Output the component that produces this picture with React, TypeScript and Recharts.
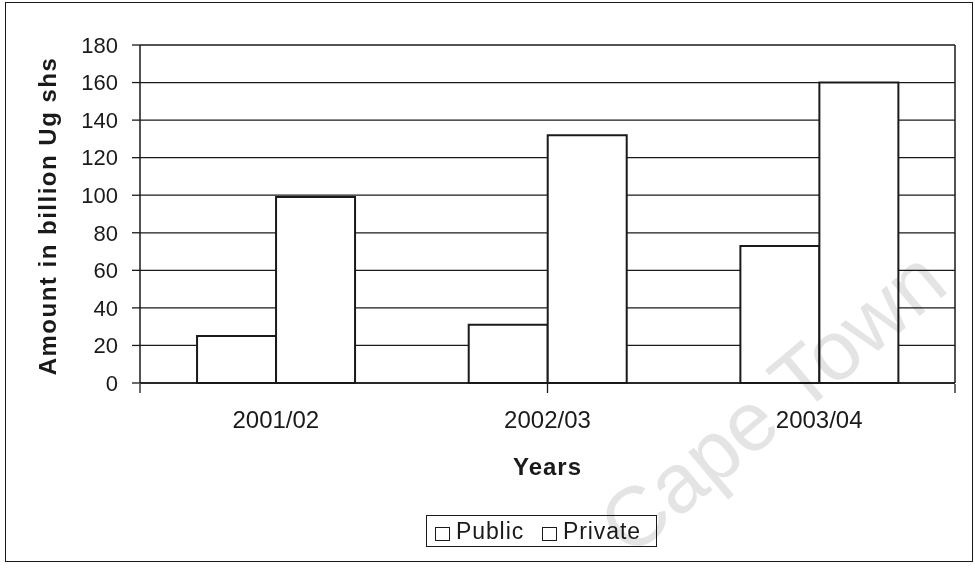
import React from "react";
import {
  BarChart,
  Bar,
  XAxis,
  YAxis,
  CartesianGrid,
  Legend,
  Label,
} from "recharts";

const years = ["2001/02", "2002/03", "2003/04"];
const publicValues = [25, 31, 73];
const privateValues = [99, 132, 160];
const yTicks = [0, 20, 40, 60, 80, 100, 120, 140, 160, 180];
const boundaryTicks = [0, 1, 2, 3];
const seriesNames = ["Public", "Private"];

const data = years.map((y, i) => ({
  year: y,
  Public: publicValues[i],
  Private: privateValues[i],
}));

const FONT = "'Liberation Sans', Arial, sans-serif";
const INK = "#1a1a1a";

const LegendBox = () => (
  <div
    style={{
      border: `1.5px solid ${INK}`,
      width: 231,
      height: 32,
      boxSizing: "border-box",
      display: "flex",
      alignItems: "center",
      paddingLeft: 8,
      fontFamily: FONT,
      fontSize: 23,
      color: INK,
      background: "#fff",
    }}
  >
    {seriesNames.map((n, i) => (
      <span
        key={n}
        style={{ display: "flex", alignItems: "center", marginRight: i === 0 ? 18 : 0 }}
      >
        <span
          style={{
            display: "inline-block",
            width: 15,
            height: 14,
            border: `1.5px solid ${INK}`,
            boxSizing: "border-box",
            marginRight: 6,
            marginTop: 5,
          }}
        />
        <span style={{ letterSpacing: 0.9 }}>{n}</span>
      </span>
    ))}
  </div>
);

export default function App() {
  return (
    <div style={{ position: "absolute", left: 0, top: 0, width: 975, height: 575, background: "#fff" }}>
      <div
        style={{
          position: "absolute",
          left: 5,
          top: 2,
          width: 968,
          height: 560,
          border: `1.5px solid ${INK}`,
          boxSizing: "border-box",
        }}
      />
      <BarChart
        width={975}
        height={575}
        data={data}
        margin={{ top: 45, right: 19, bottom: 190, left: 0 }}
        barCategoryGap="21%"
        barGap={0}
        style={{ position: "absolute", left: 0, top: 0 }}
      >
        <CartesianGrid
          xAxisId="cat"
          yAxisId="left"
          vertical={false}
          stroke={INK}
          strokeWidth={1.3}
        />
        <XAxis
          xAxisId="cat"
          dataKey="year"
          height={1}
          tickSize={0}
          tickLine={false}
          tickMargin={28}
          axisLine={{ stroke: INK, strokeWidth: 1.5 }}
          tick={{ fill: INK, fontSize: 24, fontFamily: FONT }}
          interval={0}
        >
          <Label
            content={(props: any) => {
              const vb = props.viewBox || { x: 140, y: 383, width: 815 };
              return (
                <text
                  x={vb.x + vb.width / 2}
                  y={475}
                  textAnchor="middle"
                  fill={INK}
                  fontFamily={FONT}
                  fontSize={24}
                  fontWeight="bold"
                  letterSpacing={1}
                >
                  Years
                </text>
              );
            }}
          />
        </XAxis>
        <XAxis
          xAxisId="ticks"
          type="number"
          domain={[0, 3]}
          ticks={boundaryTicks}
          interval={0}
          allowDataOverflow
          height={1}
          tickFormatter={() => ""}
          tickSize={9}
          tickLine={{ stroke: INK, strokeWidth: 1.3 }}
          axisLine={false}
        />
        <YAxis
          yAxisId="left"
          width={140}
          domain={[0, 180]}
          ticks={yTicks}
          interval={0}
          tickSize={8}
          tickMargin={14}
          tickLine={{ stroke: INK, strokeWidth: 1.3 }}
          axisLine={{ stroke: INK, strokeWidth: 1.5 }}
          tick={{ fill: INK, fontSize: 22, fontFamily: FONT }}
        >
          <Label
            content={() => (
              <text
                x={47}
                y={216}
                transform="rotate(-90 47 216)"
                textAnchor="middle"
                dominantBaseline="central"
                fill={INK}
                fontFamily={FONT}
                fontSize={24}
                fontWeight="bold"
                letterSpacing={1.5}
              >
                Amount in billion Ug shs
              </text>
            )}
          />
        </YAxis>
        <YAxis
          yAxisId="right"
          orientation="right"
          width={1}
          domain={[0, 180]}
          tick={false}
          tickLine={false}
          axisLine={{ stroke: INK, strokeWidth: 1.5 }}
        />
        <Legend
          layout="vertical"
          align="center"
          verticalAlign="middle"
          wrapperStyle={{ left: 426, top: 515, width: 231, height: 32 }}
          content={() => <LegendBox />}
        />
        <Bar
          xAxisId="cat"
          yAxisId="left"
          dataKey="Public"
          fill="#fff"
          stroke={INK}
          strokeWidth={2}
          isAnimationActive={false}
        />
        <Bar
          xAxisId="cat"
          yAxisId="left"
          dataKey="Private"
          fill="#fff"
          stroke={INK}
          strokeWidth={2}
          isAnimationActive={false}
        />
      </BarChart>
      <div
        style={{
          position: "absolute",
          left: 772,
          top: 402,
          transform: "translate(-50%, -50%) rotate(-40deg)",
          fontFamily: FONT,
          fontSize: 84,
          lineHeight: 1,
          color: "#e4e4e4",
          whiteSpace: "nowrap",
          mixBlendMode: "multiply",
          pointerEvents: "none",
        }}
      >
        Cape Town
      </div>
    </div>
  );
}
